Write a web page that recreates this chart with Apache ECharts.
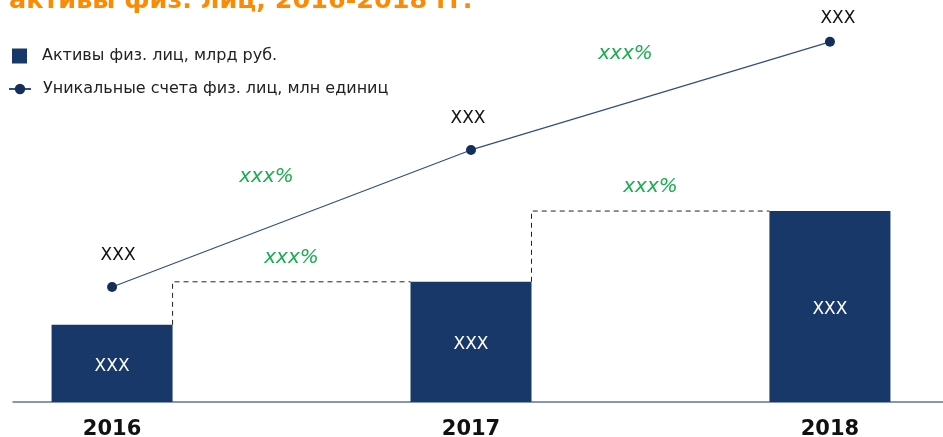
<!DOCTYPE html>
<html>
<head>
<meta charset="utf-8">
<script src="https://cdn.jsdelivr.net/npm/echarts@6/dist/echarts.min.js"></script>
<style>
  html, body { margin: 0; padding: 0; background: #fff; }
  #chart { width: 943px; height: 437px; }
</style>
</head>
<body>
<div id="chart"></div>
<script>
// данные
var years = [2016, 2017, 2018];
var assets = [19.2, 29.9, 47.5];        // Активы физ. лиц, млрд руб.
var accounts = [28.6, 62.7, 89.6];      // Уникальные счета, млн единиц
var barLabels = ['XXX', 'XXX', 'XXX'];
var lineLabels = ['XXX', 'XXX', 'XXX'];
var barGrowth = ['xxx%', 'xxx%'];
var lineGrowth = ['xxx%', 'xxx%'];

var barName = 'Активы физ. лиц, млрд руб.';
var lineName = 'Уникальные счета физ. лиц, млн единиц';
var font = 'DejaVu Sans';
var barWidth = 121;
var green = '#1aae50';

var chart = echarts.init(document.getElementById('chart'));

var lineLabelStyle = [
    { distance: 18, offset: [6, 0] },
    { distance: 18, offset: [-3, 0] },
    { distance: 10, offset: [8, 0] }
];

var connectors = years.slice(0, -1).map(function (y, i) {
    return [y, assets[i], years[i + 1], assets[i + 1]];
});
var segments = years.slice(0, -1).map(function (y, i) {
    return [y, accounts[i], years[i + 1], accounts[i + 1]];
});

var option = {
    animation: false,
    title: {
        text: 'активы физ. лиц, 2016-2018 гг.',
        left: 4,
        top: -17,
        textStyle: { color: '#fb8a04', fontSize: 25.5, fontWeight: 'bold', fontFamily: font }
    },
    legend: [
        {
            data: [{ name: barName, icon: 'rect' }],
            left: 12, top: 48, padding: 0,
            itemWidth: 15, itemHeight: 15,
            textStyle: { fontSize: 16, color: '#222', fontFamily: font, padding: [0, 0, 0, 10] }
        },
        {
            data: [lineName],
            left: 8, top: 81, padding: 0,
            itemWidth: 22, itemHeight: 13,
            textStyle: { fontSize: 16, color: '#222', fontFamily: font, padding: [0, 0, 0, 7] }
        }
    ],
    grid: { left: 13, right: 0, top: 0, bottom: 35, outerBoundsMode: 'none', containLabel: false },
    xAxis: {
        type: 'value',
        min: 2015.724,
        max: 2018.315,
        splitLine: { show: false },
        axisTick: { show: false },
        axisLine: { show: true, onZero: false, lineStyle: { color: '#5a76a6', width: 1.5 } },
        axisLabel: {
            customValues: years,
            margin: 17,
            fontSize: 21,
            fontWeight: 'bold',
            color: '#111',
            fontFamily: font,
            formatter: function (v) { return String(v); }
        }
    },
    yAxis: {
        type: 'value',
        min: 0,
        max: 100,
        show: false
    },
    series: [
        {
            name: barName,
            type: 'bar',
            barWidth: barWidth,
            itemStyle: { color: '#19386a' },
            data: years.map(function (y, i) { return [y, assets[i]]; }),
            label: {
                show: true,
                position: 'inside',
                offset: [0, 3],
                color: '#fff',
                fontSize: 17,
                fontFamily: font,
                formatter: function (p) { return barLabels[p.dataIndex]; }
            },
            z: 2
        },
        {
            name: lineName,
            type: 'line',
            symbol: 'circle',
            symbolSize: 10,
            itemStyle: { color: '#142f5c' },
            lineStyle: { color: '#2f4f86', width: 1.2 },
            data: years.map(function (y, i) {
                return {
                    value: [y, accounts[i]],
                    label: lineLabelStyle[i]
                };
            }),
            label: {
                show: true,
                position: 'top',
                color: '#111',
                fontSize: 17,
                fontFamily: font,
                formatter: function (p) { return lineLabels[p.dataIndex]; }
            },
            z: 4
        },
        {
            type: 'custom',
            data: connectors,
            renderItem: function (params, api) {
                var p0 = api.coord([api.value(0), api.value(1)]);
                var p1 = api.coord([api.value(2), api.value(3)]);
                var xs = p0[0] + barWidth / 2;
                var xe = p1[0] - barWidth / 2;
                return {
                    type: 'group',
                    children: [
                        {
                            type: 'polyline',
                            shape: { points: [[xs, p0[1]], [xs, p1[1]], [xe, p1[1]]] },
                            style: { stroke: '#222', lineWidth: 1, lineDash: [5, 4], fill: null }
                        },
                        {
                            type: 'text',
                            style: {
                                text: barGrowth[params.dataIndex],
                                x: (xs + xe) / 2, y: p1[1] - 24,
                                align: 'center', verticalAlign: 'middle',
                                fill: green, fontSize: 20, fontStyle: 'italic', fontFamily: font
                            }
                        }
                    ]
                };
            },
            z: 3
        },
        {
            type: 'custom',
            data: segments,
            renderItem: function (params, api) {
                var p0 = api.coord([api.value(0), api.value(1)]);
                var p1 = api.coord([api.value(2), api.value(3)]);
                return {
                    type: 'text',
                    style: {
                        text: lineGrowth[params.dataIndex],
                        x: (p0[0] + p1[0]) / 2 - 25, y: (p0[1] + p1[1]) / 2 - 42,
                        align: 'center', verticalAlign: 'middle',
                        fill: green, fontSize: 20, fontStyle: 'italic', fontFamily: font
                    }
                };
            },
            z: 3
        }
    ]
};

chart.setOption(option);
</script>
</body>
</html>
